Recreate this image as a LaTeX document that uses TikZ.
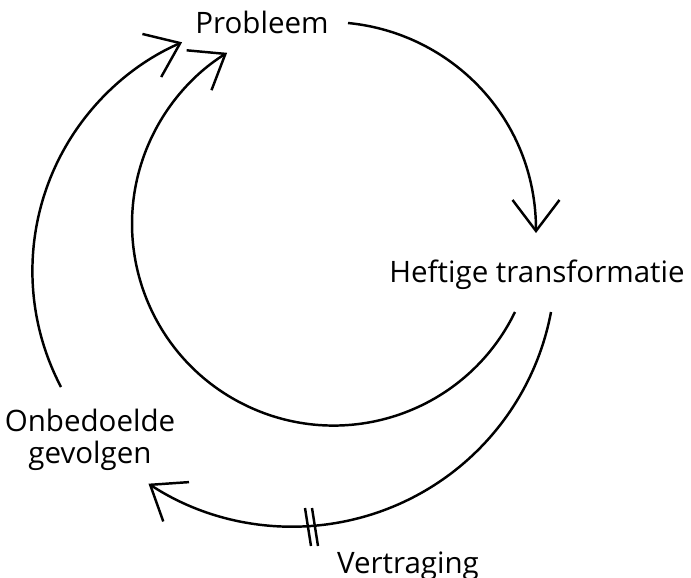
\documentclass[tikz,border=0pt]{standalone}
\usepackage{fontspec}
\setmainfont{Open Sans}
\usetikzlibrary{arrows.meta,calc}

\begin{document}
\begin{tikzpicture}[x=0.02cm, y=0.02cm, yscale=-1, >={Straight Barb[length=0.62cm, width=0.94cm]},
        lbl/.style={inner sep=0pt, align=center, font=\fontsize{16.8}{18.1}\selectfont},
        flow/.style={->, line width=1.4pt}]
        \useasboundingbox (0,0) rectangle (691,578);

        \node [lbl, anchor=base] (probleem) at (262, 33) {Probleem};
        \node [lbl, anchor=base] (heftige) at (537, 282) {Heftige transformatie};
        \node [lbl, anchor=north] (gevolgen) at (90, 409) {Onbedoelde\\gevolgen};
        \node [lbl, anchor=base] (vertraging) at (408, 573) {Vertraging};

        \draw [flow] ($(probleem.base)+(86,-10)$) .. controls +(103,10) and +(0,-115) .. ($(heftige.base)+(-1,-49)$);
        \draw [flow] ($(heftige.base)+(-22,30)$) arc [start angle=25.9, end angle=238.1, radius=201.6];
        \draw [flow] ($(heftige.base)+(14,30)$) arc [start angle=10.6, end angle=123.2, radius=263];
        \draw [flow] ($(gevolgen.north)+(-29,-22)$) arc [start angle=152.3, end angle=246.4, radius=249.6];

        \coordinate (delay) at (311.5, 527);
        \draw [line width=1.4pt] (delay) ++(-6.5,-19) -- ++(6,38);
        \draw [line width=1.4pt] (delay) ++(0.5,-19) -- ++(6,38);
\end{tikzpicture}
\end{document}
